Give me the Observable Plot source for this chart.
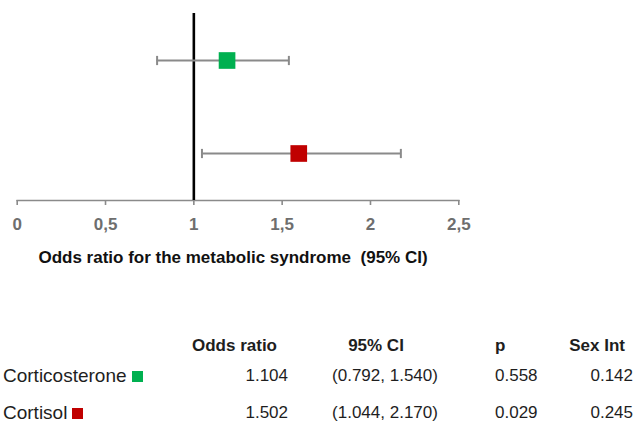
<!DOCTYPE html>
<html><head><meta charset="utf-8">
<script src="https://cdn.jsdelivr.net/npm/d3@7"></script>
<script src="https://cdn.jsdelivr.net/npm/@observablehq/plot@0.6"></script>
<style>
body{margin:0;background:#fff;font-family:"Liberation Sans",Arial,sans-serif;}
#wrap{position:relative;width:637px;height:425px;overflow:hidden}
#chart{position:absolute;left:0;top:0}
.t{position:absolute;white-space:nowrap;line-height:20px;height:20px;font-size:17px;color:#1e1e1e}
.h{font-weight:bold}
.sq{display:inline-block;width:11px;height:11px;margin-left:5px;vertical-align:0px}
</style></head><body><div id="wrap"><div id="chart"></div></div>
<script>
// ---- data ----
const names = ["Corticosterone", "Cortisol"];
const orPlotted = [1.188, 1.594];   // marker positions as drawn
const ciLow = [0.792, 1.046];
const ciHigh = [1.538, 2.172];
const xTicks = [0, 0.5, 1, 1.5, 2, 2.5];
const axisTitle = "Odds ratio for the metabolic syndrome  (95% CI)";
const headers = ["Odds ratio", "95% CI", "p", "Sex Int"];
const orText = ["1.104", "1.502"];
const ciText = ["(0.792, 1.540)", "(1.044, 2.170)"];
const pText = ["0.558", "0.029"];
const sexText = ["0.142", "0.245"];

const palette = ["#00b050", "#c00000"];
const data = names.map((name, i) => ({name, or: orPlotted[i], lo: ciLow[i], hi: ciHigh[i]}));
const gray = "#8a8a8a";
// vertical cap symbol for the whiskers
const capSymbol = {draw(ctx, size) { const h = Math.sqrt(size) / 2; ctx.moveTo(0, -h); ctx.lineTo(0, h); }};

const chart = Plot.plot({
  width: 637, height: 270,
  marginLeft: 16.7, marginRight: 178.7, marginTop: 13, marginBottom: 70,
  style: {fontFamily: "Liberation Sans, Arial, sans-serif", background: "transparent"},
  x: {domain: [0, 2.5]},
  y: {type: "point", domain: names, padding: 0.5, axis: null},
  color: {domain: names, range: palette},
  marks: [
    Plot.frame({anchor: "bottom", stroke: gray, strokeWidth: 1.6}),
    Plot.axisX(xTicks, {tickSize: 5, tickPadding: 12, stroke: gray, strokeWidth: 1.6, fill: "#6e6e6e",
      fontSize: 17, fontWeight: "bold", tickFormat: d => String(d).replace(".", ","), label: null}),
    Plot.ruleX([1], {stroke: "#000", strokeWidth: 2.6}),
    Plot.ruleY(data, {y: "name", x1: "lo", x2: "hi", stroke: gray, strokeWidth: 2}),
    Plot.dot(data, {x: "lo", y: "name", symbol: capSymbol, r: 5.2, stroke: gray, strokeWidth: 2, fill: "none"}),
    Plot.dot(data, {x: "hi", y: "name", symbol: capSymbol, r: 5.2, stroke: gray, strokeWidth: 2, fill: "none"}),
    Plot.dot(data, {x: "or", y: "name", symbol: "square", r: 9.4, fill: "name"}),
    Plot.text([axisTitle], {frameAnchor: "bottom", dy: 57, dx: -5, fontSize: 17, fontWeight: "bold",
      fill: "#111", lineAnchor: "middle"})
  ]
});
document.getElementById("chart").appendChild(chart);

// ---- table ----
const wrap = document.getElementById("wrap");
function place(html, x, yc, align, cls) {
  const d = document.createElement("div");
  d.className = "t " + (cls || "");
  d.innerHTML = html;
  d.style.top = (yc - 10) + "px";
  if (align === "left") d.style.left = x + "px";
  else if (align === "right") d.style.right = (637 - x) + "px";
  else { d.style.left = x + "px"; d.style.transform = "translateX(-50%)"; }
  wrap.appendChild(d);
}
const headerY = 346, rowY = [376, 413];
place(headers[0], 277, headerY, "right", "h");
place(headers[1], 376, headerY, "center", "h");
place(headers[2], 495, headerY, "left", "h");
place(headers[3], 625, headerY, "right", "h");
names.forEach((n, i) => {
  place(`<span style="font-size:19px">${n}</span><span class="sq" style="background:${palette[i]}"></span>`, 3, rowY[i], "left");
  place(orText[i], 288, rowY[i], "right");
  place(ciText[i], 385, rowY[i], "center");
  place(pText[i], 495, rowY[i], "left");
  place(sexText[i], 633, rowY[i], "right");
});
</script></body></html>
